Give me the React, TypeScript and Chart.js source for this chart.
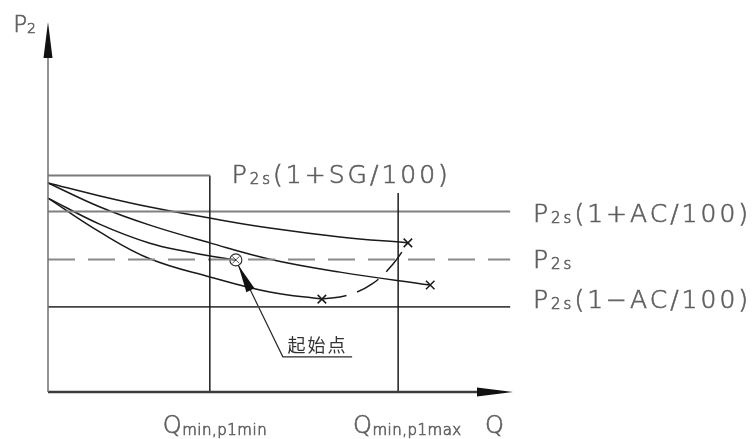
import React, { useEffect, useRef } from "react";
import { Chart, registerables } from "chart.js";

Chart.register(...registerables);

// Relative units: Q (flow) 0..100, P2 (pressure) 0..100
const Q_MAX = 100;
const P_MAX = 100;

// Reference levels
const P_SG = 58.5; // P2s(1+SG/100)
const P_AC_HI = 48.8; // P2s(1+AC/100)
const P_2S = 35.8; // P2s
const P_AC_LO = 23.0; // P2s(1-AC/100)
const Q_MIN_P1MIN = 34.8;
const Q_MIN_P1MAX = 75.3;
const P_P1MAX_TOP = 53.8;
const Q_REF_END = 99.4;

// Control curves
const curveA_Q = [0, 11.2, 21.9, 34.8, 47.7, 62.8, 77.4];
const curveA_P = [56.5, 53.0, 50.0, 47.0, 44.3, 41.9, 40.3];
const curveB_Q = [0, 11.2, 21.9, 34.8, 47.7, 62.8, 82.2];
const curveB_P = [56.5, 50.0, 45.1, 40.3, 35.9, 32.4, 28.9];
const curveC_Q = [0, 11.2, 21.9, 30.0, 35.5, 40.4];
const curveC_P = [52.4, 45.3, 40.2, 37.9, 36.6, 35.7];
const curveD_Q = [0, 11.2, 21.9, 34.8, 47.7, 58.9];
const curveD_P = [52.4, 43.2, 36.0, 31.1, 27.0, 25.1];
const envelope_Q = [58.9, 64.5, 69.7, 74.2, 77.4];
const envelope_P = [25.1, 26.2, 29.2, 34.6, 40.3];

// End points (x) and start point (circle)
const end_Q = [77.4, 82.2, 58.9];
const end_P = [40.3, 28.9, 25.1];
const start_Q = [40.4];
const start_P = [35.7];

// Leader line for the "起始点" note
const leader_Q = [40.9, 50.5, 65.4];
const leader_P = [34.3, 9.5, 9.5];

const NOTE_TEXT = "起始点";

const pts = (qs: number[], ps: number[]) => qs.map((q, i) => ({ x: q, y: ps[i] }));

type Part = [string, number, number?];

const FONT = '"DejaVu Sans", "Liberation Sans", sans-serif';

function drawRich(ctx: CanvasRenderingContext2D, x: number, y: number, parts: Part[], spacing: number) {
  let cx = x;
  for (const [t, size, dy] of parts) {
    ctx.font = `300 ${size}px ${FONT}`;
    (ctx as any).letterSpacing = `${spacing}px`;
    ctx.fillText(t, cx, y + (dy || 0));
    ctx.strokeText(t, cx, y + (dy || 0));
    cx += ctx.measureText(t).width;
  }
  (ctx as any).letterSpacing = "0px";
}

function arrowHead(ctx: CanvasRenderingContext2D, tx: number, ty: number, fx: number, fy: number, len: number, half: number) {
  const dx = fx - tx;
  const dy = fy - ty;
  const d = Math.hypot(dx, dy) || 1;
  const ux = dx / d;
  const uy = dy / d;
  const bx = tx + ux * len;
  const by = ty + uy * len;
  ctx.beginPath();
  ctx.moveTo(tx, ty);
  ctx.lineTo(bx - uy * half, by + ux * half);
  ctx.lineTo(bx + uy * half, by - ux * half);
  ctx.closePath();
  ctx.fill();
}

const labels: { q: number; p: number; parts: Part[]; spacing: number }[] = [
  { q: -7.5, p: 97.3, parts: [["P", 23], ["2", 14, 1]], spacing: 0 },
  { q: 39.5, p: 56.5, parts: [["P", 25], ["2s", 15, 1], ["(1+SG/100)", 25]], spacing: 3 },
  { q: 104.3, p: 45.9, parts: [["P", 25], ["2s", 15, 1], ["(1+AC/100)", 25]], spacing: 3 },
  { q: 104.3, p: 33.5, parts: [["P", 25], ["2s", 15, 1]], spacing: 3 },
  { q: 104.3, p: 22.7, parts: [["P", 25], ["2s", 15, 1], ["(1\u2212AC/100)", 25]], spacing: 3 },
  { q: 24.7, p: -11, parts: [["Q", 24], ["min,p1min", 15, 2]], spacing: 0.5 },
  { q: 65.6, p: -11, parts: [["Q", 24], ["min,p1max", 15, 2]], spacing: 0.5 },
  { q: 94.0, p: -11, parts: [["Q", 24]], spacing: 0 },
];

const diagramPlugin = {
  id: "diagram",
  afterDatasetsDraw(chart: any) {
    const { ctx, scales } = chart;
    const X = (q: number) => scales.x.getPixelForValue(q);
    const Y = (p: number) => scales.y.getPixelForValue(p);
    ctx.save();
    // axis arrows
    ctx.fillStyle = "#111";
    arrowHead(ctx, X(0), Y(P_MAX), X(0), Y(0), 36, 4.5);
    arrowHead(ctx, X(Q_MAX), Y(0), X(0), Y(0), 36, 4.5);
    // leader arrow
    arrowHead(ctx, X(leader_Q[0]), Y(leader_P[0]), X(leader_Q[1]), Y(leader_P[1]), 28, 4.5);

    // labels
    ctx.fillStyle = "#555";
    ctx.strokeStyle = "#666";
    ctx.lineWidth = 0.7;
    ctx.textBaseline = "alphabetic";
    ctx.textAlign = "left";
    for (const l of labels) {
      drawRich(ctx, X(l.q), Y(l.p), l.parts, l.spacing);
    }
    // note text
    ctx.fillStyle = "#333";
    ctx.textAlign = "center";
    ctx.font = `18px "Noto Sans CJK SC", sans-serif`;
    (ctx as any).letterSpacing = "2px";
    const nx = (X(leader_Q[1]) + X(leader_Q[2])) / 2;
    ctx.fillText(NOTE_TEXT, nx, Y(leader_P[1]) - 5);
    (ctx as any).letterSpacing = "0px";
    ctx.restore();
  },
};

export default function App() {
  const ref = useRef<HTMLCanvasElement | null>(null);

  useEffect(() => {
    if (!ref.current) return;
    const line = (data: any[], color: string, width: number, extra: any = {}) => ({
      data,
      borderColor: color,
      backgroundColor: color,
      borderWidth: width,
      pointRadius: 0,
      tension: 0,
      fill: false,
      clip: false,
      ...extra,
    });

    const chart = new Chart(ref.current, {
      type: "line",
      data: {
        datasets: [
          // axes
          line([{ x: 0, y: 0 }, { x: 0, y: P_MAX - 3 }], "#6f6f6f", 1.5),
          line([{ x: 0, y: 0 }, { x: Q_MAX - 3, y: 0 }], "#3c3c3c", 2.5),
          // SG box
          line([{ x: 0, y: P_SG }, { x: Q_MIN_P1MIN, y: P_SG }], "#7a7a7a", 2),
          line([{ x: Q_MIN_P1MIN, y: P_SG }, { x: Q_MIN_P1MIN, y: 0 }], "#1e1e1e", 1.5),
          // Q min p1max vertical
          line([{ x: Q_MIN_P1MAX, y: P_P1MAX_TOP }, { x: Q_MIN_P1MAX, y: 0 }], "#1e1e1e", 1.5),
          // reference lines
          line([{ x: 0, y: P_AC_HI }, { x: Q_REF_END, y: P_AC_HI }], "#808080", 2),
          line([{ x: 0, y: P_2S }, { x: Q_REF_END, y: P_2S }], "#8a8a8a", 2, { borderDash: [27, 13] }),
          line([{ x: 0, y: P_AC_LO }, { x: Q_REF_END, y: P_AC_LO }], "#444", 1.8),
          // curves
          line(pts(curveA_Q, curveA_P), "#1a1a1a", 1.5, { tension: 0.4 }),
          line(pts(curveB_Q, curveB_P), "#1a1a1a", 1.5, { tension: 0.4 }),
          line(pts(curveC_Q, curveC_P), "#1a1a1a", 1.5, { tension: 0.4 }),
          line(pts(curveD_Q, curveD_P), "#1a1a1a", 1.5, { tension: 0.4 }),
          line(pts(envelope_Q, envelope_P), "#1a1a1a", 1.5, { tension: 0.4, borderDash: [25, 11] }),
          // leader
          line(pts(leader_Q, leader_P), "#2a2a2a", 1.2),
          // markers
          {
            data: pts(end_Q, end_P),
            showLine: false,
            pointStyle: "crossRot",
            pointRadius: 6,
            pointBorderWidth: 1.5,
            borderColor: "#1a1a1a",
            backgroundColor: "#1a1a1a",
            clip: false,
          },
          {
            data: pts(start_Q, start_P),
            showLine: false,
            pointStyle: "circle",
            pointRadius: 6,
            pointBorderWidth: 1.2,
            borderColor: "#333",
            backgroundColor: "rgba(255,255,255,0)",
            clip: false,
          },
          {
            data: pts(start_Q, start_P),
            showLine: false,
            pointStyle: "crossRot",
            pointRadius: 5,
            pointBorderWidth: 1,
            borderColor: "#555",
            backgroundColor: "#555",
            clip: false,
          },
        ] as any,
      },
      options: {
        animation: false,
        responsive: false,
        maintainAspectRatio: false,
        layout: { padding: { left: 48, right: 243, top: 22, bottom: 47 } },
        plugins: { legend: { display: false }, tooltip: { enabled: false } },
        scales: {
          x: { type: "linear", min: 0, max: Q_MAX, display: false },
          y: { type: "linear", min: 0, max: P_MAX, display: false },
        },
      },
      plugins: [diagramPlugin],
    });
    return () => chart.destroy();
  }, []);

  return (
    <div style={{ position: "absolute", left: 0, top: 0, width: 756, height: 439, background: "#fff" }}>
      <canvas ref={ref} width={756} height={439} style={{ width: 756, height: 439 }} />
    </div>
  );
}
